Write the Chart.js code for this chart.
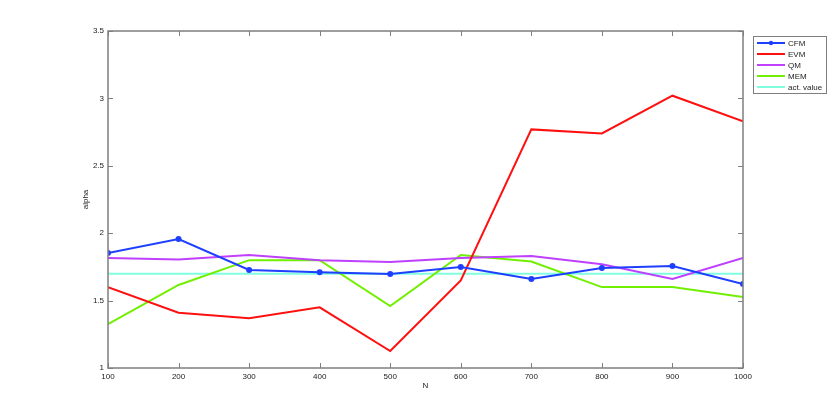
<!DOCTYPE html>
<html>
<head>
<meta charset="utf-8">
<script src="https://cdn.jsdelivr.net/npm/chart.js@4/dist/chart.umd.min.js"></script>
<style>
  html, body { margin: 0; padding: 0; background: #fff; }
  #wrap { width: 830px; height: 415px; position: relative; }
</style>
</head>
<body>
<div id="wrap"><canvas id="chart" width="830" height="415"></canvas></div>
<script>
// x values (N)
var nValues = [100, 200, 300, 400, 500, 600, 700, 800, 900, 1000];
// alpha estimates per method
var cfm = [1.853, 1.957, 1.727, 1.71, 1.697, 1.75, 1.66, 1.742, 1.757, 1.623];
var evm = [1.60, 1.41, 1.37, 1.45, 1.126, 1.65, 2.77, 2.74, 3.02, 2.83];
var qm  = [1.816, 1.805, 1.838, 1.80, 1.786, 1.816, 1.83, 1.77, 1.66, 1.816];
var mem = [1.326, 1.616, 1.80, 1.80, 1.46, 1.838, 1.79, 1.60, 1.60, 1.527];
var actValue = [1.7, 1.7, 1.7, 1.7, 1.7, 1.7, 1.7, 1.7, 1.7, 1.7];

var FONT = "'Liberation Sans', Arial, Helvetica, sans-serif";
var AXIS_COLOR = "#7f7f7f";

function toPoints(ys) {
    return nValues.map(function (x, i) { return { x: x, y: ys[i] }; });
}

function series(label, ys, color, withMarkers) {
    return {
        label: label,
        data: toPoints(ys),
        borderColor: color,
        backgroundColor: color,
        borderWidth: 2,
        pointRadius: withMarkers ? 2 : 0,
        pointHoverRadius: withMarkers ? 2 : 0,
        showMarker: withMarkers,
        tension: 0
    };
}

// matlab style box with inner ticks, axis titles and legend
var matlabBox = {
    id: "matlabBox",
    afterDraw: function (chart) {
        var ctx = chart.ctx;
        var a = chart.chartArea;
        var xs = chart.scales.x, ys = chart.scales.y;
        var tl = 5;
        ctx.save();
        ctx.strokeStyle = AXIS_COLOR;
        ctx.lineWidth = 1.5;
        ctx.strokeRect(a.left, a.top, a.right - a.left, a.bottom - a.top);
        ctx.lineWidth = 1;
        ctx.beginPath();
        xs.ticks.forEach(function (t) {
            var px = Math.round(xs.getPixelForValue(t.value)) + 0.5;
            ctx.moveTo(px, a.bottom); ctx.lineTo(px, a.bottom - tl);
            ctx.moveTo(px, a.top); ctx.lineTo(px, a.top + tl);
        });
        ys.ticks.forEach(function (t) {
            var py = Math.round(ys.getPixelForValue(t.value)) + 0.5;
            ctx.moveTo(a.left, py); ctx.lineTo(a.left + tl, py);
            ctx.moveTo(a.right, py); ctx.lineTo(a.right - tl, py);
        });
        ctx.stroke();

        // axis titles
        ctx.fillStyle = "#222";
        ctx.font = "8px " + FONT;
        ctx.textAlign = "center";
        ctx.textBaseline = "middle";
        ctx.fillText("N", (a.left + a.right) / 2, 386);
        ctx.translate(86, (a.top + a.bottom) / 2);
        ctx.rotate(-Math.PI / 2);
        ctx.fillText("alpha", 0, 0);
        ctx.restore();

        // legend
        ctx.save();
        var lx = 753, ly = 36, lw = 73, rowH = 11;
        var ds = chart.data.datasets;
        ctx.fillStyle = "#fff";
        ctx.fillRect(lx, ly, lw, rowH * ds.length + 2);
        ctx.strokeStyle = AXIS_COLOR;
        ctx.lineWidth = 1;
        ctx.strokeRect(lx + 0.5, ly + 0.5, lw, rowH * ds.length + 2);
        ctx.font = "8px " + FONT;
        ctx.textAlign = "left";
        ctx.textBaseline = "middle";
        ds.forEach(function (d, i) {
            var cy = ly + 7 + i * rowH;
            ctx.strokeStyle = d.borderColor;
            ctx.lineWidth = 2;
            ctx.beginPath();
            ctx.moveTo(lx + 4, cy); ctx.lineTo(lx + 32, cy);
            ctx.stroke();
            if (d.showMarker) {
                ctx.fillStyle = d.borderColor;
                ctx.beginPath();
                ctx.arc(lx + 18, cy, 2.2, 0, Math.PI * 2);
                ctx.fill();
            }
            ctx.fillStyle = "#222";
            ctx.fillText(d.label, lx + 35, cy + 0.5);
        });
        ctx.restore();
    }
};

new Chart(document.getElementById("chart").getContext("2d"), {
    type: "line",
    data: {
        datasets: [
            series("CFM", cfm, "#1f3fff", true),
            series("EVM", evm, "#ff1010", false),
            series("QM", qm, "#bf40ff", false),
            series("MEM", mem, "#70f000", false),
            series("act. value", actValue, "#80ffe0", false)
        ]
    },
    options: {
        responsive: false,
        animation: false,
        layout: { padding: { left: 0, top: 31, right: 87, bottom: 0 } },
        plugins: {
            legend: { display: false },
            tooltip: { enabled: false }
        },
        scales: {
            x: {
                type: "linear",
                min: 100,
                max: 1000,
                afterFit: function (s) { s.height = 47; },
                grid: { display: false },
                border: { display: false },
                ticks: {
                    stepSize: 100,
                    padding: -4,
                    maxRotation: 0,
                    color: "#222",
                    font: { family: FONT, size: 8 },
                    callback: function (v) { return String(v); }
                }
            },
            y: {
                min: 1,
                max: 3.5,
                afterFit: function (s) { s.width = 108; },
                grid: { display: false },
                border: { display: false },
                ticks: {
                    stepSize: 0.5,
                    padding: -4,
                    color: "#222",
                    font: { family: FONT, size: 8 },
                    callback: function (v) { return String(v); }
                }
            }
        }
    },
    plugins: [matlabBox]
});
</script>
</body>
</html>
